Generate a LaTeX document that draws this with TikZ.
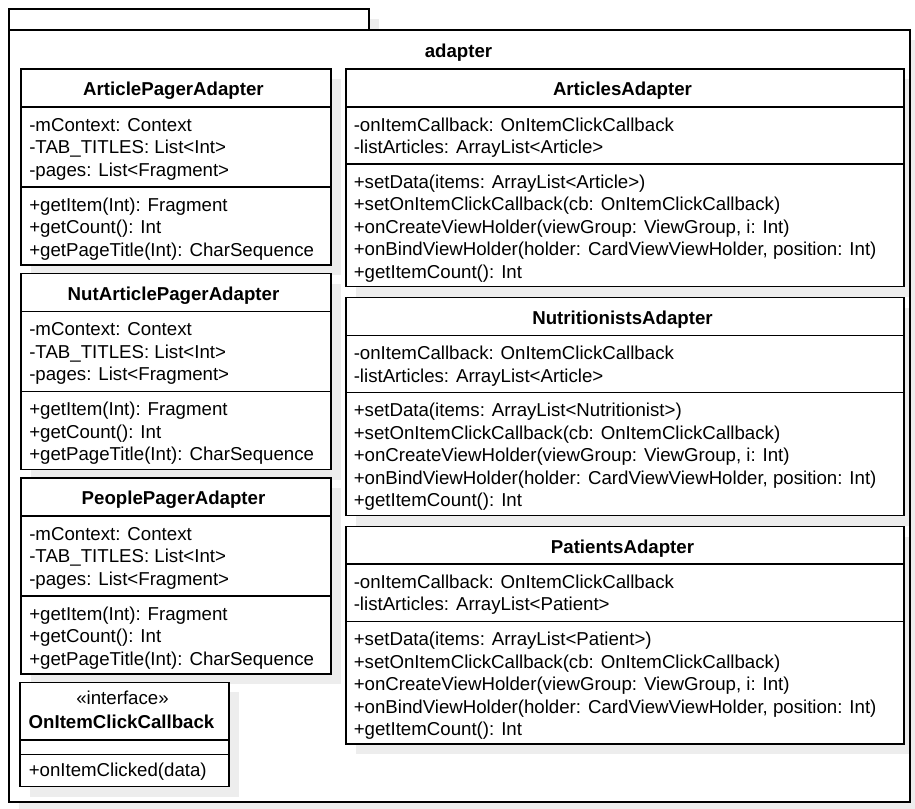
\documentclass[tikz,border=0pt]{standalone}
\usepackage{fontspec}
\setmainfont{Liberation Sans}
\tikzset{
  x=0.75pt, y=-0.75pt,
  umlline/.style={draw=black, line width=1.15pt},
  shadowfill/.style={fill=black!7, draw=none},
  hdr/.style={anchor=base, inner sep=0pt, font=\fontsize{14}{16.875}\selectfont\bfseries},
  plain/.style={anchor=base, inner sep=0pt, font=\fontsize{14}{16.875}\selectfont},
  cmp/.style={anchor=north west, inner sep=0pt, align=left, font=\fontsize{14}{16.875}\selectfont},
}
\newcommand\st{\rule{0pt}{10.5pt}}
% id, x1, x2, top, s1, s2, bottom, title
\newcommand\umlclass[8]{%
  \fill[shadowfill] (#2+10,#4+10) rectangle (#3+10,#7+10);
  \draw[umlline, fill=white] (#2,#4) rectangle (#3,#7);
  \draw[umlline] (#2,#5) -- (#3,#5);
  \draw[umlline] (#2,#6) -- (#3,#6);
  \node[hdr] (#1-title) at ({(#2+#3)/2-2.5},#4+26.7) {#8};
}
\begin{document}
\begin{tikzpicture}
\useasboundingbox (0,0) rectangle (915,808);
% package
\fill[shadowfill] (19,19) rectangle (379,40);
\fill[shadowfill] (19,40) rectangle (920,812);
\draw[umlline, fill=white] (9,9) rectangle (369,30);
\draw[umlline, fill=white] (9,30) rectangle (910,802);
\node[hdr] (pkg) at (458.5,57.7) {adapter};

% left column
\umlclass{apa}{21}{331}{69}{107}{187}{265}{ArticlePagerAdapter}
\node[cmp] (apa-attr) at (29,117) {\st-mContext: Context\\-TAB\_TITLES: List<Int>\\-pages: List<Fragment>};
\node[cmp] (apa-meth) at (29,197) {\st+getItem(Int): Fragment\\+getCount(): Int\\+getPageTitle(Int): CharSequence};

\umlclass{napa}{21}{331}{273.5}{311.5}{391.5}{469.5}{NutArticlePagerAdapter}
\node[cmp] (napa-attr) at (29,321.5) {\st-mContext: Context\\-TAB\_TITLES: List<Int>\\-pages: List<Fragment>};
\node[cmp] (napa-meth) at (29,401.5) {\st+getItem(Int): Fragment\\+getCount(): Int\\+getPageTitle(Int): CharSequence};

\umlclass{ppa}{21}{331}{478}{516}{596}{674}{PeoplePagerAdapter}
\node[cmp] (ppa-attr) at (29,526) {\st-mContext: Context\\-TAB\_TITLES: List<Int>\\-pages: List<Fragment>};
\node[cmp] (ppa-meth) at (29,606) {\st+getItem(Int): Fragment\\+getCount(): Int\\+getPageTitle(Int): CharSequence};

% interface
\fill[shadowfill] (30,692.3) rectangle (239,796.7);
\draw[umlline, fill=white] (20,682.3) rectangle (229,786.7);
\draw[umlline] (20,740) -- (229,740);
\draw[umlline] (20,754.3) -- (229,754.3);
\node[plain] (oicc-st) at (122.5,704.3) {«interface»};
\node[hdr] (oicc-title) at (121.5,728.3) {OnItemClickCallback};
\node[cmp] (oicc-meth) at (28.5,762.7) {\st+onItemClicked(data)};

% right column
\umlclass{aa}{346}{904}{69}{107}{164}{286.5}{ArticlesAdapter}
\node[cmp] (aa-attr) at (353.5,117) {\st-onItemCallback: OnItemClickCallback\\-listArticles: ArrayList<Article>};
\node[cmp] (aa-meth) at (353.5,174) {\st+setData(items: ArrayList<Article>)\\+setOnItemClickCallback(cb: OnItemClickCallback)\\+onCreateViewHolder(viewGroup: ViewGroup, i: Int)\\+onBindViewHolder(holder: CardViewViewHolder, position: Int)\\+getItemCount(): Int};

\umlclass{na}{346}{904}{297.5}{335.5}{392.5}{515.5}{NutritionistsAdapter}
\node[cmp] (na-attr) at (353.5,345.5) {\st-onItemCallback: OnItemClickCallback\\-listArticles: ArrayList<Article>};
\node[cmp] (na-meth) at (353.5,402.5) {\st+setData(items: ArrayList<Nutritionist>)\\+setOnItemClickCallback(cb: OnItemClickCallback)\\+onCreateViewHolder(viewGroup: ViewGroup, i: Int)\\+onBindViewHolder(holder: CardViewViewHolder, position: Int)\\+getItemCount(): Int};

\umlclass{pa}{346}{904}{526.5}{564}{621.5}{744}{PatientsAdapter}
\node[cmp] (pa-attr) at (353.5,574) {\st-onItemCallback: OnItemClickCallback\\-listArticles: ArrayList<Patient>};
\node[cmp] (pa-meth) at (353.5,631.5) {\st+setData(items: ArrayList<Patient>)\\+setOnItemClickCallback(cb: OnItemClickCallback)\\+onCreateViewHolder(viewGroup: ViewGroup, i: Int)\\+onBindViewHolder(holder: CardViewViewHolder, position: Int)\\+getItemCount(): Int};

% package outline on top of the class shadows
\draw[umlline] (9,30) rectangle (910,802);
\end{tikzpicture}
\end{document}
